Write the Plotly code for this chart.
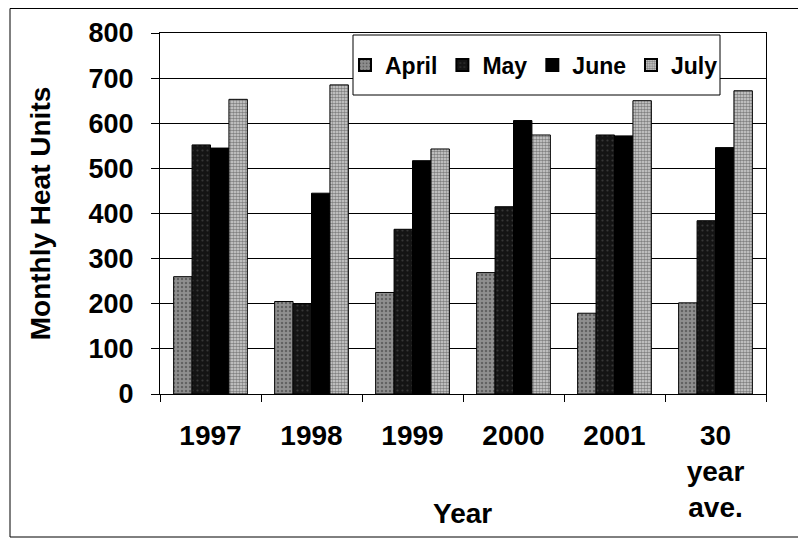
import plotly.graph_objects as go

categories = ["1997", "1998", "1999", "2000", "2001", "30<br>year<br>ave."]
april = [260, 205, 225, 269, 179, 202]
may = [552, 200, 365, 415, 574, 384]
june = [545, 445, 517, 606, 572, 546]
july = [653, 685, 543, 574, 650, 672]
y_ticks = [0, 100, 200, 300, 400, 500, 600, 700, 800]

FONT = "Liberation Sans, Arial, sans-serif"

# the page shows the figure offset by the body margin (8 px)
OFF = 8
# plot area in screen pixels
SL, SR, ST, SB = 160, 766, 33, 394
L, R, T, B = SL - OFF, SR - OFF, ST - OFF, SB - OFF
W, H = R - L, B - T

def px(xs):
    return (xs - OFF - L) / W

def py(ys):
    return (B - (ys - OFF)) / H

fig = go.Figure()
fig.add_bar(name="April", x=categories, y=april,
            marker=dict(color="#808080", line=dict(color="black", width=1),
                        pattern=dict(shape=".", fgcolor="#333333", bgcolor="#8f8f8f", size=4, solidity=0.3)))
fig.add_bar(name="May", x=categories, y=may,
            marker=dict(color="#1a1a1a", line=dict(color="black", width=1),
                        pattern=dict(shape=".", fgcolor="#5a5a5a", bgcolor="#141414", size=5, solidity=0.15)))
fig.add_bar(name="June", x=categories, y=june,
            marker=dict(color="#000000", line=dict(color="black", width=1)))
fig.add_bar(name="July", x=categories, y=july,
            marker=dict(color="#a0a0a0", line=dict(color="black", width=1),
                        pattern=dict(shape=".", fgcolor="#2a2a2a", bgcolor="#d8d8d8", size=3, solidity=0.6)))

fig.update_layout(
    width=806, height=541,
    margin=dict(l=L, r=806 - R, t=T, b=541 - B, autoexpand=False),
    paper_bgcolor="white", plot_bgcolor="white",
    barmode="group", bargap=0.27, bargroupgap=0,
    font=dict(family=FONT, color="black", size=24),
    showlegend=True,
    legend=dict(orientation="h", x=px(345), y=py(65), xanchor="left", yanchor="middle",
                bgcolor="rgba(0,0,0,0)", borderwidth=0,
                font=dict(size=23, family=FONT, weight="bold"),
                itemsizing="constant", traceorder="normal"),
    shapes=[
        dict(type="rect", xref="paper", yref="paper",
             x0=px(10), x1=px(800), y0=py(537), y1=py(8.5),
             line=dict(color="black", width=1)),
        dict(type="rect", xref="paper", yref="paper", layer="above",
             x0=px(353), x1=px(720), y0=py(95), y1=py(35),
             fillcolor="white", line=dict(color="black", width=1)),
    ],
    annotations=[dict(text="<b>Year</b>", xref="paper", yref="paper",
                      x=px(462), y=py(513), showarrow=False,
                      font=dict(size=28, family=FONT), xanchor="center", yanchor="middle")],
)
fig.update_xaxes(showline=True, linecolor="black", linewidth=1, mirror=True,
                 ticks="outside", tickson="boundaries", ticklen=7, tickcolor="black",
                 tickfont=dict(size=28, family=FONT, weight="bold"),
                 ticklabelstandoff=16, automargin=False)
fig.update_yaxes(range=[0, 800], tickvals=y_ticks, showline=True, linecolor="black",
                 linewidth=1, mirror=True, ticks="outside", ticklen=8, tickcolor="black",
                 showgrid=True, gridcolor="black", gridwidth=1, zeroline=False,
                 tickfont=dict(size=27, family=FONT, weight="bold"),
                 ticklabelstandoff=12, automargin=False,
                 title=dict(text="<b>Monthly Heat Units</b>", font=dict(size=28, family=FONT), standoff=29))

fig.write_html("out.html")
